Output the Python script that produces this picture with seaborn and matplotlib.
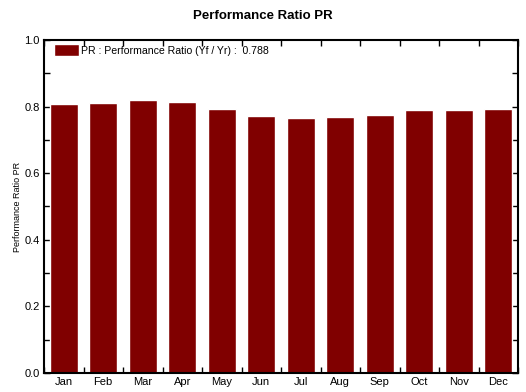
import numpy as np
import matplotlib
matplotlib.use("Agg")
import matplotlib.pyplot as plt
import seaborn as sns
from matplotlib.ticker import MultipleLocator

# Données
mois = ["Jan", "Feb", "Mar", "Apr", "May", "Jun", "Jul", "Aug", "Sep", "Oct", "Nov", "Dec"]
pr = [0.809, 0.812, 0.821, 0.815, 0.794, 0.773, 0.767, 0.770, 0.776, 0.791, 0.791, 0.794]
pr_annuel = 0.788

sns.set_style("white")
plt.rcParams["font.family"] = ["Liberation Sans", "DejaVu Sans"]
plt.rcParams["text.color"] = "black"
plt.rcParams["xtick.color"] = "black"
plt.rcParams["ytick.color"] = "black"
plt.rcParams["axes.labelcolor"] = "black"

fig = plt.figure(figsize=(5.26, 3.92), dpi=100)
ax = fig.add_axes([44 / 526, 19 / 392, 474 / 526, 333 / 392])

sns.barplot(x=mois, y=pr, color="#800000", saturation=1, width=0.72,
            label=f"PR : Performance Ratio (Yf / Yr) :  {pr_annuel:.3f}", ax=ax)

ax.set_xlim(-0.5, 11.5)
ax.set_ylim(0, 1.0)
ax.yaxis.set_major_locator(MultipleLocator(0.2))
ax.yaxis.set_minor_locator(MultipleLocator(0.1))
ax.yaxis.set_major_formatter(matplotlib.ticker.FormatStrFormatter("%.1f"))
ax.set_xticks(np.arange(-0.5, 12), minor=True)

ax.tick_params(axis="x", which="major", length=0, labelsize=8, pad=3)
ax.tick_params(axis="x", which="minor", direction="in", length=4, width=1,
               top=True, bottom=True)
ax.tick_params(axis="y", which="both", direction="in", length=4, width=1,
               left=True, right=True, labelsize=8, pad=3)

for s in ax.spines.values():
    s.set_visible(True)
    s.set_color("black")
    s.set_linewidth(1.5)

ax.set_xlabel("")
ax.set_ylabel("Performance Ratio PR", fontsize=6.5, labelpad=2)
fig.suptitle("Performance Ratio PR", fontsize=9.5, fontweight="bold", y=0.975)

ax.legend(loc="upper left", frameon=False, fontsize=7.6, handlelength=2.4,
          handleheight=1.4, borderaxespad=0.0, handletextpad=0.2,
          bbox_to_anchor=(0.012, 1.0))

fig.savefig("out.png", dpi=100)
